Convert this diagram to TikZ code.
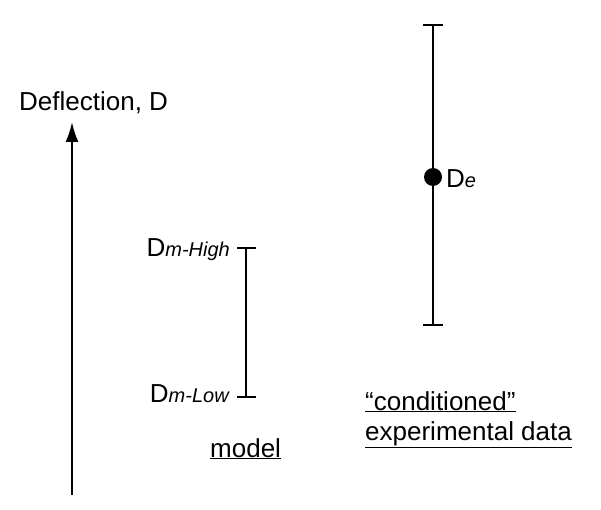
\documentclass[tikz,border=0pt]{standalone}
\usepackage{fontspec}
\usetikzlibrary{arrows.meta}
\setmainfont{Liberation Sans}
\begin{document}
\begin{tikzpicture}[x=1pt,y=-1pt,
  bar/.style={line width=2.2pt},
  lbl/.style={inner sep=0pt,font=\fontsize{26}{30}\selectfont}]
\useasboundingbox[fill=white] (0,0) rectangle (601,510);
% axis
\coordinate (a0) at (72,495);
\coordinate (a1) at (72,122);
\draw[line width=2pt,-{Latex[length=20pt,width=13pt]}] (a0) -- (a1);
\node[lbl,anchor=base west] (dl) at (19,111) {Deflection, D};
% model bar
\coordinate (mt) at (246,248);
\coordinate (mb) at (246,397);
\draw[bar] (mt) -- (mb);
\draw[line width=1.4pt] (237,248) -- (256,248) (237,397) -- (256,397);
\node[lbl,anchor=base east] (mh) at (230,256) {D\textit{\fontsize{20}{24}\selectfont m-High}};
\node[lbl,anchor=base east] (ml) at (230,402) {D\textit{\fontsize{20}{24}\selectfont m-Low}};
\node[lbl,anchor=base west] (mo) at (210,457) {\underline{model}};
% experimental bar
\coordinate (et) at (433,25);
\coordinate (eb) at (433,325);
\draw[bar] (et) -- (eb);
\draw[line width=1.4pt] (423,25) -- (443,25) (423,325) -- (443,325);
\fill (433,177) circle (9);
\node[lbl,anchor=base west] (de) at (446,188) {D\textit{\fontsize{20}{24}\selectfont e}};
\node[lbl,anchor=base west] (c1) at (365,410) {\underline{“conditioned”}};
\node[lbl,anchor=base west] (c2) at (365,440) {\underline{experimental data}};
\end{tikzpicture}
\end{document}
